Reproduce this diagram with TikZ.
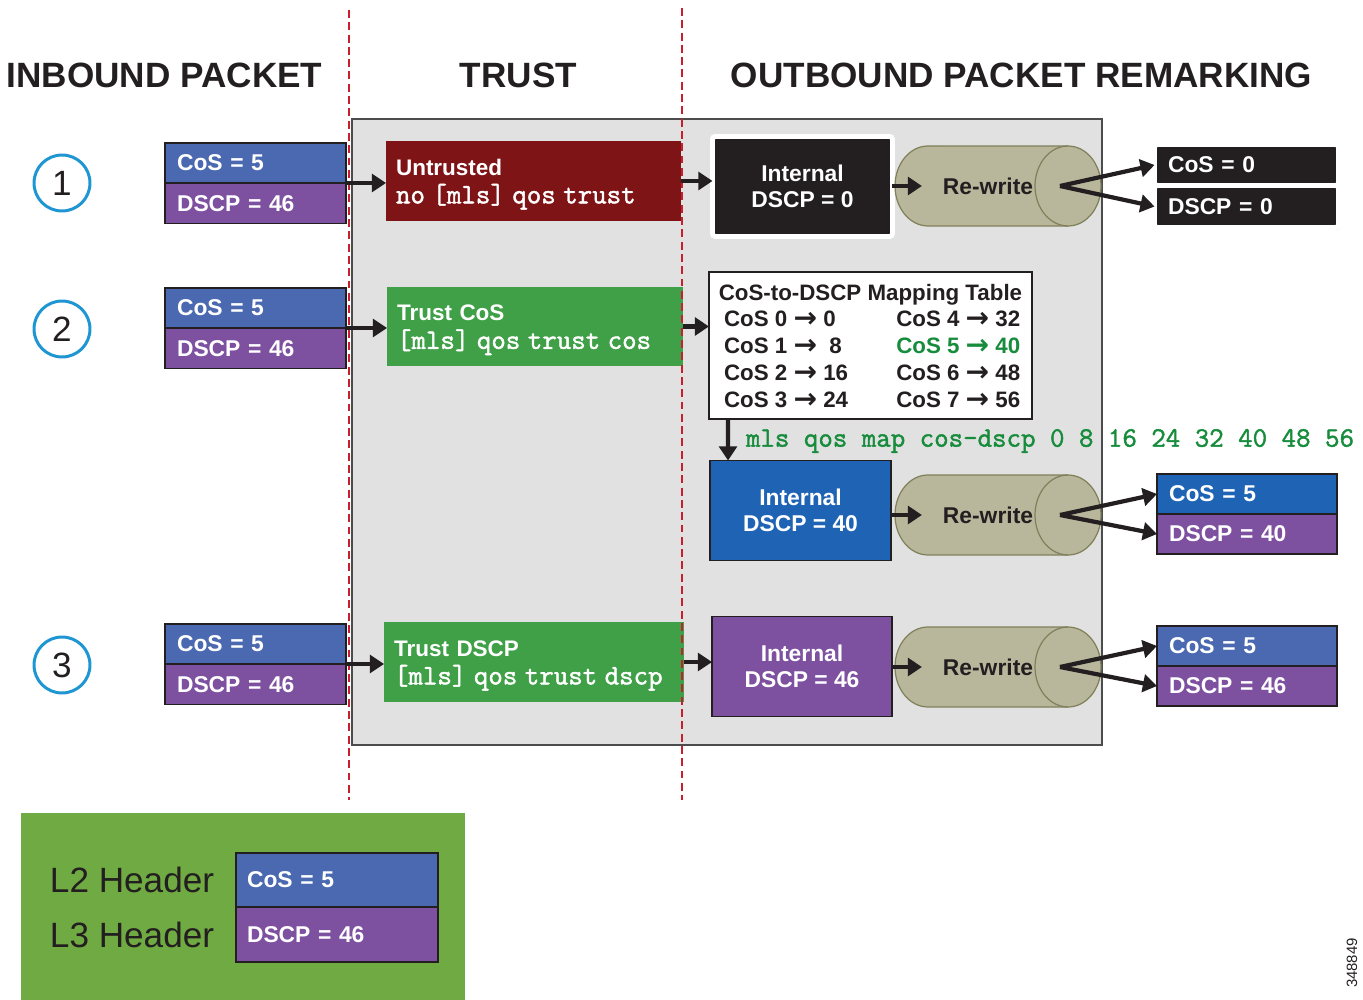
\documentclass[tikz,border=0pt]{standalone}
\usepackage{fontspec}
\setmainfont{Liberation Sans}
\newfontfamily\arrowfnt{DejaVu Sans}
\newfontfamily\monofnt{Latin Modern Mono}[FakeBold=1.6]
\usetikzlibrary{arrows.meta,shadows}
\definecolor{cosblue}{HTML}{4A69B0}
\definecolor{dscppurple}{HTML}{7D50A0}
\definecolor{intblue}{HTML}{1F64B4}
\definecolor{untred}{HTML}{7F1416}
\definecolor{trustgreen}{HTML}{40A048}
\definecolor{legendgreen}{HTML}{70AA42}
\definecolor{cylfill}{HTML}{B8B79C}
\definecolor{cyldraw}{HTML}{80805A}
\definecolor{graybg}{HTML}{E1E1E1}
\definecolor{dashred}{HTML}{C81E2D}
\definecolor{circblue}{HTML}{1E96D2}
\definecolor{mapgreen}{HTML}{178C3C}
\definecolor{inkc}{HTML}{231F20}
\newcommand\myarr{\raisebox{-0.5pt}{\fontsize{16}{15}\selectfont\arrowfnt\bfseries →}}
\newcommand\monob{\monofnt}
\newcommand\rwcyl[2]{%
  \filldraw[fill=cylfill, draw=cyldraw, line width=0.7pt]
    (928,#1-40) arc[start angle=90, end angle=270, x radius=0.66cm, y radius=0.8cm]
    -- (1068,#1+40) arc[start angle=-90, end angle=90, x radius=0.66cm, y radius=0.8cm] -- cycle;
  \draw[cyldraw, line width=0.7pt] (1068,#1-40) arc[start angle=90, end angle=270, x radius=0.66cm, y radius=0.8cm];
  \node[font=\fontsize{13}{15}\selectfont\bfseries, text=inkc] (#2) at (988,#1) {Re-write};
  \coordinate (#2in) at (922,#1);
  \coordinate (#2out) at (1060,#1);
}
\begin{document}
\begin{tikzpicture}[x=0.02cm,y=-0.02cm,
  every node/.style={inner sep=0pt, outer sep=0pt},
  title/.style={font=\fontsize{20}{24}\selectfont\bfseries, text=inkc},
  hdr/.style={rectangle, draw=inkc, line width=0.8pt, inner xsep=0.24cm, text width=3.14cm,
     minimum height=0.8cm, align=left, font=\fontsize{13}{15}\selectfont\bfseries, text=white},
  trustbox/.style={rectangle, inner xsep=0.2cm, minimum height=1.6cm, align=left,
     font=\fontsize{12.8}{15}\selectfont\bfseries, text=white},
  intbox/.style={rectangle, minimum width=3.6cm, minimum height=2.0cm, align=center,
     font=\fontsize{13}{15}\selectfont\bfseries, text=white},
  whitebord/.style={draw=white, line width=2.8pt, rounded corners=1.5pt,
     drop shadow={shadow xshift=0.8pt, shadow yshift=-1.2pt, opacity=0.45}},
  arr/.style={draw=inkc, line width=2.4pt, -{Triangle[length=8pt,width=10pt]}},
  reddash/.style={draw=dashred, line width=1.1pt, dash pattern=on 4.5pt off 2.5pt},
  numcirc/.style={circle, draw=circblue, line width=1.7pt, minimum size=1.12cm,
     font=\fontsize{20}{24}\selectfont, text=inkc}
]
\useasboundingbox (0,0) rectangle (1363,1000);

% titles
\node[title] (tin) at (164.5,75) {INBOUND PACKET};
\node[title] (ttr) at (518.5,75) {TRUST};
\node[title] (tout) at (1021.5,75) {OUTBOUND PACKET REMARKING};

% gray core
\node[draw=black!70, fill=graybg, line width=0.85pt, anchor=north west,
      minimum width=15cm, minimum height=12.52cm] (core) at (352,119) {};

% circles
\node[numcirc] (c1) at (62,183) {1};
\node[numcirc] (c2) at (62,329) {2};
\node[numcirc] (c3) at (62,665) {3};

% inbound headers
\node[hdr, fill=cosblue] (p1c) at (255.5,163) {CoS = 5};
\node[hdr, fill=dscppurple] (p1d) at (255.5,203.5) {DSCP = 46};
\node[hdr, fill=cosblue] (p2c) at (255.5,308) {CoS = 5};
\node[hdr, fill=dscppurple] (p2d) at (255.5,348.5) {DSCP = 46};
\node[hdr, fill=cosblue] (p3c) at (255.5,644) {CoS = 5};
\node[hdr, fill=dscppurple] (p3d) at (255.5,684.5) {DSCP = 46};

% trust boxes
\node[trustbox, fill=untred, text width=5.5cm] (untr) at (533.5,181)
  {\rule{0pt}{13pt}Untrusted\\[1pt]{\fontsize{16}{15}\selectfont\monob no [mls] qos trust}};
\node[trustbox, fill=trustgreen, text width=5.52cm, minimum height=1.58cm] (tcos) at (535,326.5)
  {\rule{0pt}{13pt}Trust CoS\\[1pt]{\fontsize{16}{15}\selectfont\monob [mls] qos trust cos}};
\node[trustbox, fill=trustgreen, text width=5.6cm] (tdscp) at (534,662)
  {\rule{0pt}{13pt}Trust DSCP\\[1pt]{\fontsize{16}{15}\selectfont\monob [mls] qos trust dscp}};

% internal boxes
\node[intbox, fill=inkc, whitebord] (int1) at (802.5,186.5) {Internal\\DSCP = 0};
\node[intbox, fill=intblue, draw=inkc, line width=0.8pt, minimum width=3.62cm] (int2) at (800.5,510.5) {Internal\\DSCP = 40};
\node[intbox, fill=dscppurple, draw=inkc, line width=0.8pt] (int3) at (802,666.5) {Internal\\DSCP = 46};

% mapping table
\node[draw=inkc, fill=white, line width=0.8pt, anchor=north west,
      minimum width=6.46cm, minimum height=2.94cm, text=inkc] (tbl) at (709,272)
{\fontsize{12.7}{15.3}\selectfont\bfseries
 \renewcommand\arraystretch{1}%
 \begin{tabular}{@{}p{101pt}@{}l@{}}
 \noalign{\vspace{3.4pt}}
 \multicolumn{2}{@{}l@{}}{CoS-to-DSCP Mapping Table}\\
 \hspace*{3pt}CoS 0 \myarr\ 0 & CoS 4 \myarr\ 32\\
 \hspace*{3pt}CoS 1 \myarr\ \ 8 & \textcolor{mapgreen}{CoS 5 \myarr\ 40}\\
 \hspace*{3pt}CoS 2 \myarr\ 16 & CoS 6 \myarr\ 48\\
 \hspace*{3pt}CoS 3 \myarr\ 24 & CoS 7 \myarr\ 56
 \end{tabular}};

\node[anchor=west, text=mapgreen, font=\fontsize{16}{16}\selectfont\monob] (mapcmd) at (746,441)
  {mls qos map cos-dscp 0 8 16 24 32 40 48 56};

% cylinders
\rwcyl{186}{rw1}
\rwcyl{515}{rw2}
\rwcyl{667}{rw3}

% outputs
\node[hdr, fill=inkc, whitebord, inner xsep=0.27cm, text width=3.14cm, minimum height=0.82cm] (out1c) at (1246.5,165) {CoS = 0};
\node[hdr, fill=inkc, whitebord, inner xsep=0.27cm, text width=3.14cm, minimum height=0.84cm] (out1d) at (1246.5,206.5) {DSCP = 0};
\node[hdr, fill=intblue, text width=3.12cm] (out2c) at (1247,494) {CoS = 5};
\node[hdr, fill=dscppurple, text width=3.12cm] (out2d) at (1247,534) {DSCP = 40};
\node[hdr, fill=cosblue, text width=3.12cm] (out3c) at (1247,646) {CoS = 5};
\node[hdr, fill=dscppurple, text width=3.12cm] (out3d) at (1247,686) {DSCP = 46};

% legend
\node[fill=legendgreen, anchor=north west, minimum width=8.88cm, minimum height=3.74cm] (legend) at (21,813) {};
\node[anchor=west, font=\fontsize{20}{24}\selectfont, text=inkc] (l2) at (50,880) {L2 Header};
\node[anchor=west, font=\fontsize{20}{24}\selectfont, text=inkc] (l3) at (50,935) {L3 Header};
\node[hdr, fill=cosblue, inner xsep=0.22cm, text width=3.6cm, minimum height=1.08cm] (lgc) at (337,880) {CoS = 5};
\node[hdr, fill=dscppurple, inner xsep=0.22cm, text width=3.6cm, minimum height=1.1cm] (lgd) at (337,934.5) {DSCP = 46};

\node[rotate=90, font=\fontsize{8.5}{10}\selectfont, text=inkc] (fig) at (1352,963) {348849};

% dashed separators
\draw[reddash] (349,10) -- (349,800);
\draw[reddash] (682,8) -- (682,800);

% connectors
\draw[arr] (p1c.south east) -- (p1c.south east -| untr.west);
\draw[arr] (p2c.south east) -- (p2c.south east -| tcos.west);
\draw[arr] (p3c.south east) -- (p3c.south east -| tdscp.west);
\draw[arr] (untr.east) -- (untr.east -| int1.west);
\draw[arr] (tcos.east) -- (tcos.east -| tbl.west);
\draw[arr] (tdscp.east) -- (tdscp.east -| int3.west);
\draw[arr] ([xshift=0.38cm]tbl.south west) -- ([xshift=0.36cm]int2.north west);
\draw[arr] (int1.east |- rw1in) -- (rw1in);
\draw[arr] (int2.east |- rw2in) -- (rw2in);
\draw[arr] (int3.east |- rw3in) -- (rw3in);
\draw[arr] (rw1out) -- (out1c.west);
\draw[arr] (rw1out) -- (out1d.west);
\draw[arr] (rw2out) -- (out2c.west);
\draw[arr] (rw2out) -- (out2d.west);
\draw[arr] (rw3out) -- (out3c.west);
\draw[arr] (rw3out) -- (out3d.west);
\end{tikzpicture}
\end{document}
